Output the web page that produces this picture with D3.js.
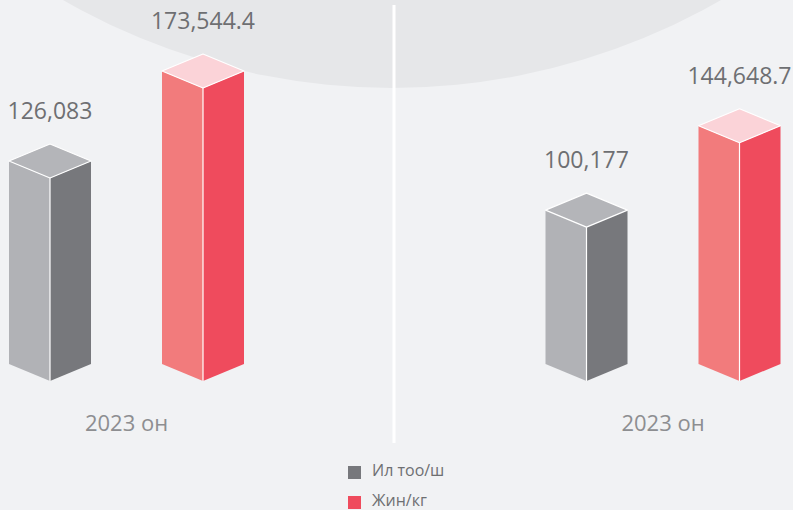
<!DOCTYPE html>
<html>
<head>
<meta charset="utf-8">
<script src="https://cdn.jsdelivr.net/npm/d3@7"></script>
<style>
  html, body { margin: 0; padding: 0; background: #f1f2f4; }
  svg { display: block; font-family: "Open Sans", "Noto Sans", sans-serif; }
</style>
</head>
<body>
<script>
// données du graphique
const groups = ["2023 он", "2023 он"]
const series = ["Ил тоо/ш", "Жин/кг"]
const ilTooValues = [126083, 100177]
const jinKgValues = [173544.4, 144648.7]

const width = 793
const height = 510

// couleurs des faces (gauche, droite, dessus) par série
const faces = {
  "Ил тоо/ш": { left: "#b1b2b6", right: "#77787c", top: "#b4b5b9", legend: "#77787c" },
  "Жин/кг": { left: "#f27b7c", right: "#ef4b5d", top: "#fbd3d8", legend: "#ef4b5d" }
}

const svg = d3.select("body")
  .append("svg")
  .attr("width", width)
  .attr("height", height)

svg.append("rect")
  .attr("width", width)
  .attr("height", height)
  .attr("fill", "#f1f2f4")

// grand cercle clair en haut
svg.append("circle")
  .attr("cx", 392)
  .attr("cy", -571)
  .attr("r", 659)
  .attr("fill", "#e6e7e9")

// séparateur blanc
svg.append("rect")
  .attr("x", 392.5)
  .attr("y", 5)
  .attr("width", 3)
  .attr("height", 438)
  .attr("fill", "#ffffff")

const x = d3.scalePoint()
  .domain(d3.range(groups.length))
  .range([126.5, 663])

const xInner = d3.scalePoint()
  .domain(series)
  .range([-76.5, 76.5])

const base = 381
const y = d3.scaleLinear()
  .domain([19000, 173544.4])
  .range([base, 88])

const w = 41
const dy = 17
const fmt = d3.format(",")

const bars = []
groups.forEach((g, i) => {
  bars.push({ group: i, serie: series[0], value: ilTooValues[i] })
  bars.push({ group: i, serie: series[1], value: jinKgValues[i] })
})

const line = d3.line()

const bar = svg.selectAll("g.bar")
  .data(bars)
  .enter()
  .append("g")
  .attr("class", "bar")

bar.each(function (d) {
  const g = d3.select(this)
  const cx = x(d.group) + xInner(d.serie)
  const top = y(d.value)
  const c = faces[d.serie]

  g.append("path")
    .attr("d", line([[cx - w, top - dy], [cx, top], [cx, base], [cx - w, base - dy]]) + "Z")
    .attr("fill", c.left)
  g.append("path")
    .attr("d", line([[cx, top], [cx + w, top - dy], [cx + w, base - dy], [cx, base]]) + "Z")
    .attr("fill", c.right)
  g.append("line")
    .attr("x1", cx).attr("x2", cx)
    .attr("y1", top).attr("y2", base)
    .attr("stroke", "#ffffff")
    .attr("stroke-width", 1.2)
  g.append("path")
    .attr("d", line([[cx, top], [cx - w, top - dy], [cx, top - 2 * dy], [cx + w, top - dy]]) + "Z")
    .attr("fill", c.top)
    .attr("stroke", "#ffffff")
    .attr("stroke-width", 1.2)
    .attr("stroke-linejoin", "round")

  g.append("text")
    .attr("x", cx)
    .attr("y", top - 2 * dy - 25)
    .attr("text-anchor", "middle")
    .attr("font-size", 23)
    .attr("fill", "#6e6f72")
    .text(fmt(d.value))
})

// étiquettes des groupes
svg.selectAll("text.group")
  .data(groups)
  .enter()
  .append("text")
  .attr("class", "group")
  .attr("x", (d, i) => x(i))
  .attr("y", 431)
  .attr("text-anchor", "middle")
  .attr("font-size", 22)
  .attr("fill", "#8d8e91")
  .text(d => d)

// légende
const legend = svg.selectAll("g.legend")
  .data(series)
  .enter()
  .append("g")
  .attr("class", "legend")
  .attr("transform", (d, i) => "translate(348," + (466 + i * 30) + ")")

legend.append("rect")
  .attr("width", 13)
  .attr("height", 13)
  .attr("fill", d => faces[d].legend)

legend.append("text")
  .attr("x", 24)
  .attr("y", 10)
  .attr("font-size", 16)
  .attr("fill", "#6e6f72")
  .text(d => d)
</script>
</body>
</html>
